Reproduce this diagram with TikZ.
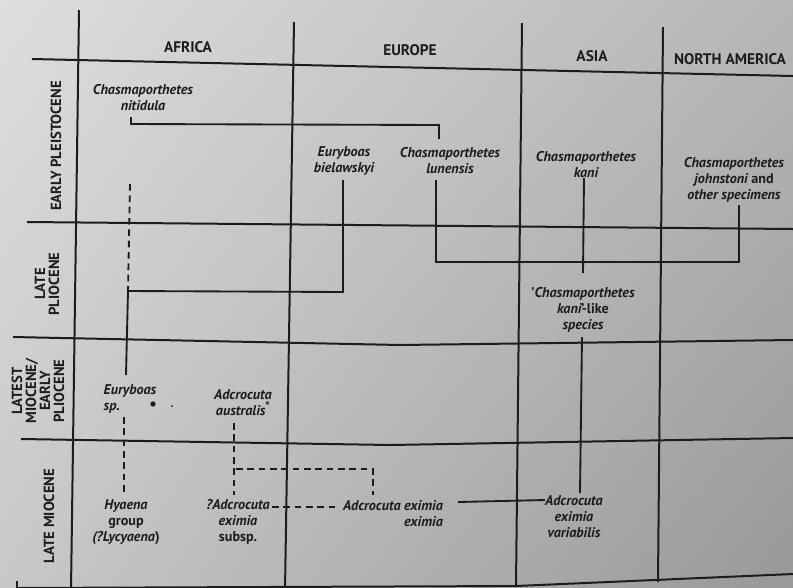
\documentclass[tikz,border=0pt]{standalone}
\usepackage{fontspec}
\setmainfont{PT Sans}
\usetikzlibrary{shadings}
\definecolor{ink}{HTML}{1C1C1C}
\definecolor{paperA}{HTML}{DEDEDE}
\definecolor{paperB}{HTML}{B6B6B6}
\definecolor{paperC}{HTML}{C8C8C8}
\definecolor{paperD}{HTML}{989898}
\begin{document}
\begin{tikzpicture}[x=0.75pt,y=-0.75pt,
  gridline/.style={line width=1.5pt, draw=ink},
  link/.style={line width=1.4pt, draw=ink},
  dlink/.style={line width=1.4pt, draw=ink, dash pattern=on 5pt off 3.5pt},
  hdr/.style={font=\fontsize{11.5}{13}\selectfont\bfseries, text=ink, inner sep=0pt},
  era/.style={font=\fontsize{11}{10.5}\selectfont\bfseries, text=ink, rotate=90, align=center, inner sep=0pt},
  taxon/.style={font=\fontsize{10.6}{12}\selectfont\itshape\bfseries, text=ink, align=center, inner sep=0pt}
]
% paper
\useasboundingbox (0,0) rectangle (793,587);
\shade[upper left=paperA, upper right=paperB, lower left=paperC, lower right=paperD]
  (0,0) rectangle (793,587);

% column rules
\draw[gridline] (79,10) -- (71,590);
\draw[gridline] (294,22) -- (285,590);
\draw[gridline] (522,23) -- (516,587);
\draw[gridline] (663,27) -- (658,582);
% row rules
\draw[gridline] (32,59) -- (793,76);
\draw[gridline] (27,222) -- (793,229);
\draw[gridline] (13,337) -- (400,345) -- (793,340);
\draw[gridline] (21,439) -- (390,445) -- (793,438);
\draw[gridline] (17,588) -- (516,586) -- (793,574);
\draw[gridline] (17,581) -- (17,590);

% column headings
\node[hdr] (hAf) at (188,47) {AFRICA};
\node[hdr] (hEu) at (410,50) {EUROPE};
\node[hdr] (hAs) at (592,56) {ASIA};
\node[hdr] (hNA) at (730,59) {NORTH AMERICA};

% row headings
\node[era] (eEP) at (56,146) {EARLY PLEISTOCENE};
\node[era] (eLP) at (47,284) {LATE\\PLIOCENE};
\node[era] (eLM) at (38,391) {LATEST\\MIOCENE/\\EARLY\\PLIOCENE};
\node[era] (eM) at (49,516) {LATE MIOCENE};

% taxa
\node[taxon] (nit) at (143,98) {Chasmaporthetes\\nitidula};
\node[taxon] (biel) at (344,161) {Euryboas\\bielawskyi};
\node[taxon] (lun) at (450,161) {Chasmaporthetes\\lunensis};
\node[taxon] (kani) at (586,165) {Chasmaporthetes\\kani};
\node[taxon] (john) at (734,180) {Chasmaporthetes\\johnstoni \upshape and\\other specimens};
\node[taxon] (kl) at (583,310) {\upshape'\itshape Chasmaporthetes\\kani\upshape'-like\\species};
\node[taxon, align=left] (esp) at (130,399) {Euryboas\\sp.};
\node[taxon] (aus) at (243,403) {Adcrocuta\\australis\raisebox{0.35em}{\upshape\fontsize{9}{9}\selectfont*}};
\node[taxon] (hya) at (126,522) {Hyaena\\\upshape group\\(\itshape ?Lycyaena\upshape)};
\node[taxon] (qad) at (238,522) {?Adcrocuta\\eximia\\\upshape subsp.};
\node[taxon, align=right] (exi) at (393,514) {Adcrocuta eximia\\eximia};
\node[taxon] (var) at (574,517) {Adcrocuta\\eximia\\variabilis};

\fill[ink] (153,404) circle (2.6);
\fill[ink] (172,406) circle (1);

% link end points
\coordinate (nitA) at (131,117);
\coordinate (nitB) at (131,124);
\coordinate (lunA) at (439,125);
\coordinate (lunB) at (439,139);
\coordinate (dTop) at (130,184);
\coordinate (jSp) at (128,291);
\coordinate (bielA) at (343,180);
\coordinate (bielB) at (343,292);
\coordinate (espTop) at (126,375);
\coordinate (lunC) at (436,180);
\coordinate (lunD) at (436,262);
\coordinate (johnA) at (739,262);
\coordinate (johnB) at (739,205);
\coordinate (kaniA) at (584,178);
\coordinate (kaniB) at (583,273);
\coordinate (klA) at (582,337);
\coordinate (varTop) at (580,493);
\coordinate (espBot) at (124,417);
\coordinate (hyaTop) at (124,495);
\coordinate (ausBot) at (234,423);
\coordinate (qadTop) at (234,495);
\coordinate (brA) at (236,469);
\coordinate (brB) at (373,469);
\coordinate (exiTop) at (373,495);
\coordinate (qadR) at (272,507);
\coordinate (exiL) at (335,507);
\coordinate (exiR) at (458,502);
\coordinate (varL) at (545,500);

% links
\draw[link] (nitA) -- (nitB) -- (lunA) -- (lunB);
\draw[dlink] (dTop) -- (jSp);
\draw[link] (bielA) -- (bielB) -- (jSp) -- (espTop);
\draw[link] (lunC) -- (lunD) -- (johnA) -- (johnB);
\draw[link] (kaniA) -- (kaniB);
\draw[link] (klA) -- (varTop);
\draw[dlink] (espBot) -- (hyaTop);
\draw[dlink] (ausBot) -- (qadTop);
\draw[dlink] (brA) -- (brB) -- (exiTop);
\draw[dlink] (qadR) -- (exiL);
\draw[link] (exiR) -- (varL);
\end{tikzpicture}
\end{document}
